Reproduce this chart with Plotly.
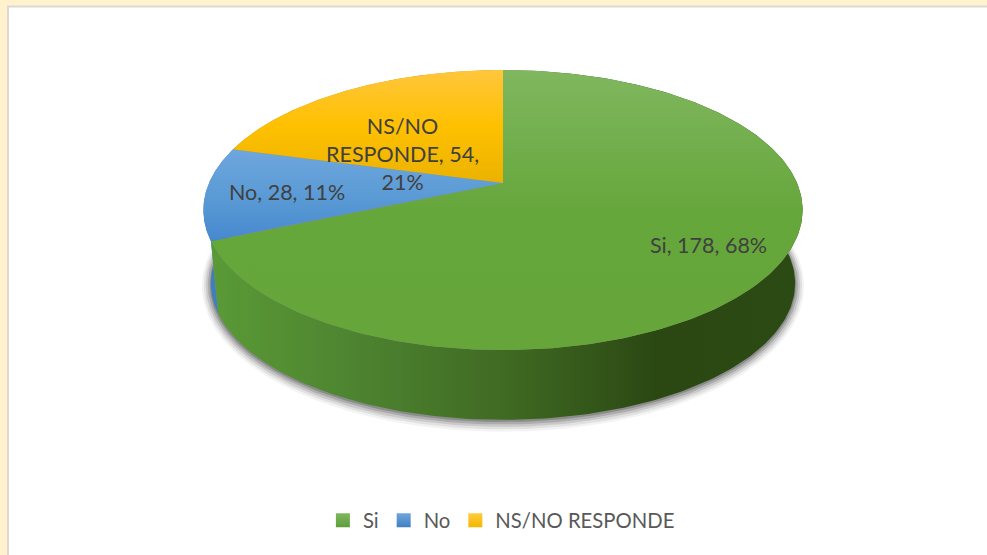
import numpy as np
import plotly.graph_objects as go

categories = ['Si', 'No', 'NS/NO RESPONDE']
values = [178, 28, 54]
label_breaks = ['Si, {v}, {p}%', 'No, {v}, {p}%', 'NS/NO<br>RESPONDE, {v},<br>{p}%']

# listed bottom of the face first, the y axis is flipped
top_colors = [['#65A539', '#66A73C', '#80B75F'],
              ['#4689CF', '#5B9BD5', '#6FA6DE'],
              ['#EAB200', '#FFC000', '#FFC63C']]
side_colors = [['#5A9A36', '#4D8330', '#3F6A22', '#2B4813', '#2C4A14'],
               ['#3F7FC0', '#3F7FC0', '#3F7FC0', '#3F7FC0', '#3F7FC0'],
               ['#BF9000', '#BF9000', '#BF9000', '#BF9000', '#BF9000']]
legend_colors = [('#7FB65E', '#5E9E3A'), ('#6FA6DE', '#3F7FC0'), ('#FFCB3D', '#F2B800')]

# pie geometry, page pixels
cx, cy_top, cy_low = 503, 183, 257
half_w, half_h, persp = 294, 134.8, -0.193
low_scale = 0.975


def rim(t, cy=cy_top, scale=1.0, grow=0.0):
    u, v = np.sin(t), -np.cos(t)
    d = 1 + persp * v
    x = cx + (scale * half_w * u / d) * (1 + grow / half_w)
    y = cy + (scale * half_h * v / d) * (1 + grow / half_h)
    return x, y


shares = np.array(values) / sum(values)
edges = np.concatenate([[0], np.cumsum(shares)]) * 2 * np.pi

fig = go.Figure()

# soft shadow under the pie
ang = np.linspace(0, 2 * np.pi, 361)
for g, a in [(9, 0.06), (7, 0.09), (5, 0.13), (3, 0.18), (1, 0.26)]:
    sx, sy = rim(ang, cy_low + 1, low_scale, g)
    fig.add_trace(go.Scatter(x=sx, y=sy, mode='lines', line=dict(width=0), fill='toself',
                             fillcolor=f'rgba(45,45,45,{a})', hoverinfo='skip', showlegend=False))


def stops(cols):
    return [[i / (len(cols) - 1), c] for i, c in enumerate(cols)]


# side walls, back slices first
for i in [2, 1, 0]:
    t = np.linspace(edges[i], edges[i + 1], 240)
    x1, y1 = rim(t)
    x2, y2 = rim(t[::-1], cy_low, low_scale)
    fig.add_trace(go.Scatter(
        x=np.concatenate([x1, x2]), y=np.concatenate([y1, y2]),
        mode='lines', line=dict(width=0), fill='toself',
        fillgradient=dict(type='horizontal', colorscale=stops(side_colors[i])),
        hoverinfo='skip', showlegend=False))

# top faces
for i in range(3):
    t = np.linspace(edges[i], edges[i + 1], 240)
    x1, y1 = rim(t)
    fig.add_trace(go.Scatter(
        x=np.concatenate([[cx], x1, [cx]]), y=np.concatenate([[cy_top], y1, [cy_top]]),
        mode='lines', line=dict(width=0), fill='toself',
        fillgradient=dict(type='vertical', colorscale=stops(top_colors[i])),
        hoverinfo='skip', showlegend=False))

# legend entries
for name, (c1, c2) in zip(categories, legend_colors):
    fig.add_trace(go.Scatter(x=[None], y=[None], mode='markers', name=name,
                             marker=dict(symbol='square', size=14, color=c1,
                                         gradient=dict(type='vertical', color=c2))))

label_pos = [(708, 245), (287, 192), (402, 154)]
for tmpl, v, s, (lx, ly) in zip(label_breaks, values, shares, label_pos):
    fig.add_annotation(x=lx, y=ly, text=tmpl.format(v=v, p=round(s * 100)), showarrow=False,
                       font=dict(family='Lato', size=21.5, color='#404040'), align='center')

fig.update_layout(
    width=987, height=555, autosize=False,
    margin=dict(l=0, r=0, t=0, b=0),
    paper_bgcolor='#FFF2CC', plot_bgcolor='rgba(0,0,0,0)',
    xaxis=dict(range=[0, 987], visible=False, fixedrange=True),
    yaxis=dict(range=[555, 0], visible=False, fixedrange=True),
    shapes=[dict(type='rect', x0=8, y0=6.5, x1=1000, y1=570, layer='below',
                 fillcolor='white', line=dict(color='#DDD9D2', width=2))],
    legend=dict(orientation='h', x=0.508, xanchor='center', y=0.062, yanchor='middle',
                font=dict(family='Lato', size=20.3, color='#595959'), bgcolor='rgba(0,0,0,0)'),
)

fig.write_html("out.html", config=dict(displayModeBar=False),
               post_script="document.body.style.margin='0';document.body.style.overflow='hidden';")
